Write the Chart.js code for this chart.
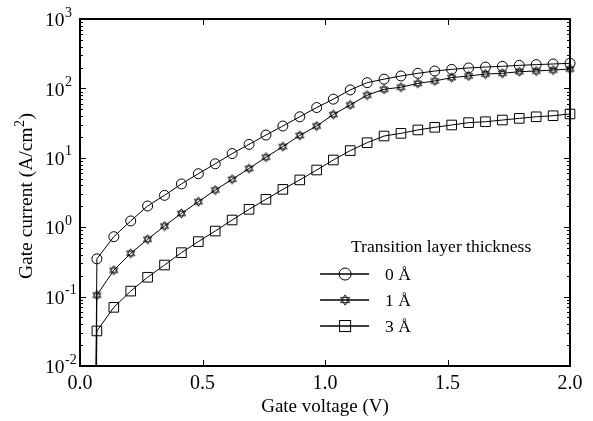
<!DOCTYPE html>
<html>
<head>
<meta charset="utf-8">
<script src="https://cdn.jsdelivr.net/npm/chart.js@4.4.0/dist/chart.umd.min.js"></script>
<style>
  html, body { margin: 0; padding: 0; background: #fff; }
  #wrap { width: 593px; height: 421px; }
</style>
</head>
<body>
<div id="wrap"><canvas id="chart"></canvas></div>
<script>
// gate voltage (V); the first entry is the onset where the current drops off the axis
const voltage = [0.058, 0.069, 0.138, 0.207, 0.276, 0.345, 0.414, 0.483, 0.552, 0.621,
                 0.690, 0.759, 0.828, 0.897, 0.966, 1.034, 1.103, 1.172, 1.241, 1.310,
                 1.379, 1.448, 1.517, 1.586, 1.655, 1.724, 1.793, 1.862, 1.931, 2.000];
// gate current (A/cm^2)
const current0 = [1e-5, 0.35, 0.73, 1.23, 2.02, 2.88, 4.2, 5.9, 8.2, 11.5,
                  15.6, 21.3, 28.7, 39, 53, 70, 95, 121, 136, 151,
                  165, 178, 188, 197, 203, 208, 215, 220, 225, 230];
const current1 = [1e-5, 0.105, 0.24, 0.42, 0.67, 1.04, 1.58, 2.33, 3.43, 4.9,
                  7.0, 10.2, 14.5, 21, 28.7, 42, 57.7, 80, 97, 104,
                  118, 128, 143, 151, 161, 165, 174, 178, 184, 190];
const current3 = [1e-5, 0.032, 0.070, 0.12, 0.19, 0.285, 0.43, 0.62, 0.88, 1.27,
                  1.81, 2.52, 3.51, 4.8, 6.67, 9.3, 12.7, 16.5, 20.6, 22.5,
                  25.2, 27.5, 29.7, 32.1, 33.1, 35, 37, 39, 40.4, 42.8];
const seriesLabels = ['0 Å', '1 Å', '3 Å'];
const legendTitle = 'Transition layer thickness';
const xTicks = [0, 0.5, 1.0, 1.5, 2.0];
const yDecades = [-2, -1, 0, 1, 2, 3];

const FONT = '"Liberation Serif", "Times New Roman", serif';

// six pointed star marker (outline only)
function makeStar(size) {
    const c = document.createElement('canvas');
    c.width = c.height = size;
    const g = c.getContext('2d');
    const cx = size / 2, cy = size / 2, r = size / 2 - 0.8;
    g.strokeStyle = '#000';
    g.lineWidth = 0.9;
    [-Math.PI / 2, Math.PI / 2].forEach(rot => {
        g.beginPath();
        for (let k = 0; k < 3; k++) {
            const a = rot + k * 2 * Math.PI / 3;
            const px = cx + r * Math.cos(a), py = cy + r * Math.sin(a);
            if (k) g.lineTo(px, py); else g.moveTo(px, py);
        }
        g.closePath();
        g.stroke();
    });
    return c;
}
const star = makeStar(11);
const starLegend = makeStar(12);

const toPoints = arr => voltage.map((v, i) => ({ x: v, y: arr[i] }));

function series(label, data, style, radius) {
    return {
        label, data: toPoints(data),
        borderColor: '#000', borderWidth: 1,
        pointStyle: style, pointRadius: radius,
        pointBorderColor: '#000', pointBorderWidth: 1,
        pointBackgroundColor: 'rgba(0,0,0,0)',
        clip: { left: 10, top: 10, right: 10, bottom: 0 }
    };
}

const datasets = [
    series(seriesLabels[0], current0, 'circle', 5),
    series(seriesLabels[1], current1, star, 5),
    series(seriesLabels[2], current3, 'rect', 6.8)
];

function drawMarker(ctx, style, r, x, y) {
    ctx.beginPath();
    if (style === 'circle') {
        ctx.arc(x, y, r, 0, Math.PI * 2);
        ctx.stroke();
    } else if (style === 'rect') {
        const s = r * Math.SQRT1_2;
        ctx.strokeRect(x - s, y - s, 2 * s, 2 * s);
    } else {
        ctx.drawImage(starLegend, x - starLegend.width / 2, y - starLegend.height / 2);
    }
}

// frame, inward ticks, y labels with superscripts, y title, legend
const decorations = {
    id: 'decorations',
    afterDraw(chart) {
        const { ctx, chartArea: a, scales: { x, y } } = chart;
        ctx.save();
        ctx.strokeStyle = '#000';
        ctx.fillStyle = '#000';
        ctx.lineWidth = 1;
        const seg = (x1, y1, x2, y2) => { ctx.beginPath(); ctx.moveTo(x1, y1); ctx.lineTo(x2, y2); ctx.stroke(); };

        xTicks.forEach(v => {
            const px = Math.round(x.getPixelForValue(v)) + 0.5;
            seg(px, a.bottom, px, a.bottom - 6);
            seg(px, a.top, px, a.top + 6);
        });
        yDecades.forEach(n => {
            for (let m = 1; m <= 9; m++) {
                const v = m * Math.pow(10, n);
                if (v > 1000 + 1e-9) break;
                const py = Math.round(y.getPixelForValue(v)) + 0.5;
                const len = m === 1 ? 6 : 3;
                seg(a.left, py, a.left + len, py);
                seg(a.right, py, a.right - len, py);
            }
        });
        ctx.lineWidth = 2;
        ctx.strokeRect(a.left, a.top, a.width, a.height);

        // y tick labels 10^n
        ctx.textAlign = 'left';
        ctx.textBaseline = 'middle';
        yDecades.forEach(n => {
            const py = y.getPixelForValue(Math.pow(10, n));
            ctx.font = '19.5px ' + FONT;
            const bx = 45;
            ctx.fillText('10', bx, py + 2);
            const w = ctx.measureText('10').width;
            ctx.font = '14px ' + FONT;
            ctx.fillText(String(n), bx + w + 0.5, py - 6);
        });

        // y axis title with a real superscript
        ctx.save();
        ctx.translate(27, (a.top + a.bottom) / 2 + 4);
        ctx.rotate(-Math.PI / 2);
        const partA = 'Gate current (A/cm', partB = '2', partC = ')';
        ctx.font = '19.5px ' + FONT;
        const wA = ctx.measureText(partA).width, wC = ctx.measureText(partC).width;
        ctx.font = '14px ' + FONT;
        const wB = ctx.measureText(partB).width;
        let tx = -(wA + wB + wC) / 2;
        ctx.font = '19.5px ' + FONT;
        ctx.fillText(partA, tx, 0);
        ctx.font = '14px ' + FONT;
        ctx.fillText(partB, tx + wA + 0.5, -7);
        ctx.font = '19.5px ' + FONT;
        ctx.fillText(partC, tx + wA + wB + 1, 0);
        ctx.restore();

        // legend
        const lx = a.left + a.width * 0.49;
        const ly = a.top + a.height * 0.735;
        ctx.font = '17.5px ' + FONT;
        ctx.textAlign = 'center';
        ctx.fillText(legendTitle, a.left + a.width * 0.737, ly - 27);
        ctx.textAlign = 'left';
        chart.data.datasets.forEach((ds, i) => {
            const ry = ly + i * 26;
            ctx.lineWidth = 1.5;
            seg(lx, ry, lx + 49, ry);
            ctx.lineWidth = 1;
            drawMarker(ctx, ds.pointStyle, ds.pointRadius + 1, lx + 25, ry);
            ctx.fillText(ds.label, lx + 65, ry + 1);
        });
        ctx.restore();
    }
};

new Chart(document.getElementById('chart'), {
    type: 'line',
    data: { datasets },
    options: {
        responsive: true,
        maintainAspectRatio: false,
        animation: false,
        layout: { padding: { left: 0, top: 19, right: 23, bottom: 0 } },
        plugins: { legend: { display: false }, tooltip: { enabled: false } },
        scales: {
            x: {
                type: 'linear', min: 0, max: 2,
                grid: { display: false, drawTicks: false },
                border: { display: false },
                afterBuildTicks: s => { s.ticks = xTicks.map(v => ({ value: v })); },
                ticks: { callback: v => v.toFixed(1), color: '#000', padding: 6, maxRotation: 0,
                         font: { family: FONT, size: 20 } },
                title: { display: true, text: 'Gate voltage (V)', color: '#000',
                         font: { family: FONT, size: 19 }, padding: { top: 0, bottom: 3 } },
                afterFit: s => { s.height = 55; }
            },
            y: {
                type: 'logarithmic', min: 0.01, max: 1000,
                grid: { display: false, drawTicks: false },
                border: { display: false },
                ticks: { callback: () => '' },
                title: { display: false },
                afterFit: s => { s.width = 80; }
            }
        }
    },
    plugins: [decorations]
});
</script>
</body>
</html>
